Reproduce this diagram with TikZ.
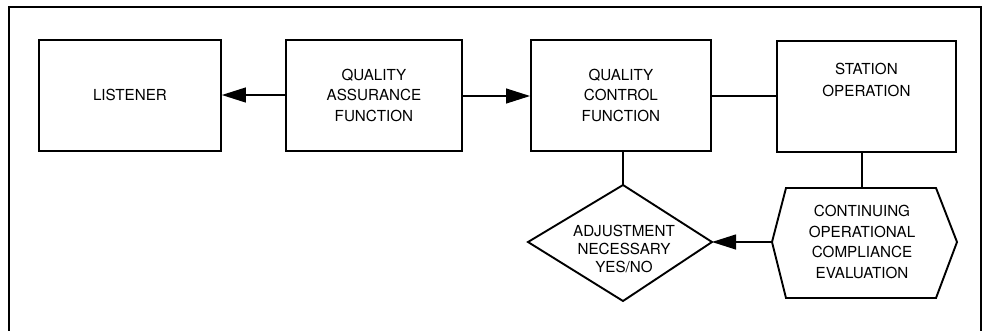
\documentclass[tikz,border=0pt]{standalone}
\usepackage{fontspec}
\setmainfont{TeX Gyre Heros}
\usetikzlibrary{arrows.meta}
\begin{document}
\begin{tikzpicture}[x=1pt,y=-1pt,
  box/.style={draw,line width=1.9pt,minimum width=#1,minimum height=111pt,inner sep=0pt,anchor=north west},
  box/.default=180pt,
  lbl/.style={align=center,font=\fontsize{15.2}{20.5}\selectfont},
  conn/.style={line width=1.2pt},
  arr/.style={conn,-{Triangle[length=24pt,width=15pt]}},
  shapeline/.style={line width=1.9pt,line join=miter}]
\useasboundingbox (0,0) rectangle (987,330);
% frame
\draw[line width=1.4pt] (9,331) -- (9,7) -- (981,7) -- (981,331);
% boxes
\node[box=182pt,lbl] (lis) at (38,39) {LISTENER};
\node[box=176pt,lbl] (qa) at (285,39) {QUALITY\\ASSURANCE\\FUNCTION};
\node[box=180pt,lbl] (qc) at (530,39) {QUALITY\\CONTROL\\FUNCTION};
\node[box=179pt,lbl] (so) at (776,40) {STATION\\[1.5pt]OPERATION\\[12pt]};
% diamond
\coordinate (dt) at (623,185);
\coordinate (dr) at (712,242);
\coordinate (db) at (623,301);
\coordinate (dl) at (528,242);
\draw[shapeline] (dt) -- (dr) -- (db) -- (dl) -- cycle;
\node[lbl,font=\fontsize{15.2}{18}\selectfont] (adj) at (624,249) {ADJUSTMENT\\NECESSARY\\YES/NO};
% hexagon
\coordinate (htl) at (786,188);
\coordinate (htr) at (936,188);
\coordinate (hr) at (957,242);
\coordinate (hbr) at (936,298);
\coordinate (hbl) at (786,298);
\coordinate (hl) at (772,242);
\coordinate (ht) at (862,188);
\draw[shapeline] (htl) -- (htr) -- (hr) -- (hbr) -- (hbl) -- (hl) -- cycle;
\node[lbl] (eval) at (862,242) {CONTINUING\\OPERATIONAL\\COMPLIANCE\\EVALUATION};
% connectors
\draw[arr] (qa.west |- 0,95) -- (lis.east |- 0,95);
\draw[arr] (qa.east |- 0,96) -- (qc.west |- 0,96);
\draw[conn] (qc.east |- 0,96) -- (so.west |- 0,96);
\draw[conn] (qc.south -| dt) -- (dt);
\draw[conn] (so.south -| ht) -- (ht);
\draw[arr] (hl) -- (dr);
\end{tikzpicture}
\end{document}
